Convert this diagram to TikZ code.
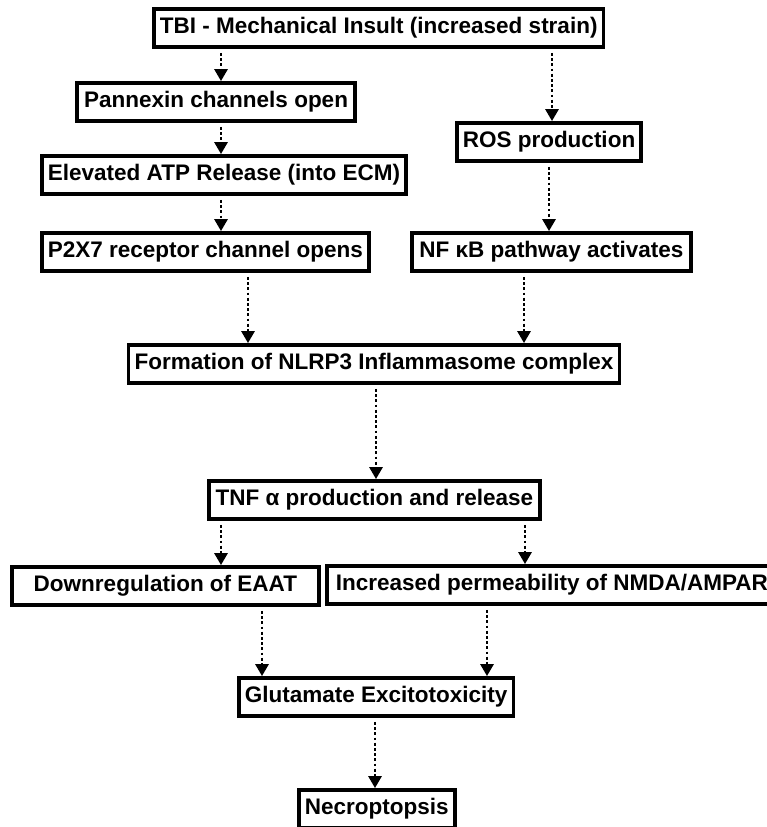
\documentclass[tikz,border=0pt]{standalone}
\usepackage{fontspec}
\setmainfont{Liberation Sans}
\newfontfamily\boxfont[UprightFont={* Bold}]{Liberation Sans}
\usetikzlibrary{arrows.meta}
\tikzset{
  box/.style={draw, line width=3.8pt, minimum height=38pt, inner ysep=0pt, inner xsep=6pt,
              font=\boxfont\fontsize{22.5pt}{24pt}\selectfont},
  arr/.style={line width=2.8pt, dash pattern=on 2.8pt off 2.4pt,
              -{Triangle[width=13pt,length=12pt]}, shorten <=4pt}
}
\begin{document}
\begin{tikzpicture}[x=1pt,y=-1pt]
\useasboundingbox (0,0) rectangle (767,827);
% nodes
\node[box, minimum width=442pt, anchor=west] (tbi) at (152,28) {TBI - Mechanical Insult (increased strain)};
\node[box, minimum width=278pt, anchor=east] (pan) at (357,102) {Pannexin channels open};
\node[box, minimum width=184pt] (ros) at (549,142) {ROS production};
\node[box, minimum width=362pt, anchor=west] (atp) at (40,175) {Elevated ATP Release (into ECM)};
\node[box, minimum width=326pt, anchor=west] (p2x) at (40,252) {P2X7 receptor channel opens};
\node[box, minimum width=279pt, anchor=west] (nfk) at (410,252) {NF κB pathway activates};
\node[box] (nlr) at (374,364) {Formation of NLRP3 Inflammasome complex};
\node[box, minimum width=331pt, anchor=west] (tnf) at (207,500) {TNF α production and release};
\node[box, minimum width=307pt, anchor=west] (eaat) at (10,586) {Downregulation of EAAT};
\node[box, minimum width=450pt, anchor=west] (nmda) at (325,585) {Increased permeability of NMDA/AMPAR};
\node[box, minimum width=270pt, anchor=west] (glu) at (237,697) {Glutamate Excitotoxicity};
\node[box, minimum width=153pt, anchor=west] (nec) at (297,809) {Necroptopsis};
% arrow columns
\coordinate (c1) at (221,0);
\coordinate (c2) at (552,0);
\coordinate (c3) at (549,0);
\coordinate (c4) at (248,0);
\coordinate (c5) at (524,0);
\coordinate (c6) at (376,0);
\coordinate (c7) at (525,0);
\coordinate (c8) at (262,0);
\coordinate (c9) at (487,0);
\coordinate (c10) at (375,0);
% connectors
\draw[arr] (tbi.south -| c1) -- (pan.north -| c1);
\draw[arr] (tbi.south -| c2) -- (ros.north -| c2);
\draw[arr] (pan.south -| c1) -- (atp.north -| c1);
\draw[arr] (atp.south -| c1) -- (p2x.north -| c1);
\draw[arr] (ros.south -| c3) -- (nfk.north -| c3);
\draw[arr] (p2x.south -| c4) -- (nlr.north -| c4);
\draw[arr] (nfk.south -| c5) -- (nlr.north -| c5);
\draw[arr] (nlr.south -| c6) -- (tnf.north -| c6);
\draw[arr] (tnf.south -| c1) -- (eaat.north -| c1);
\draw[arr] (tnf.south -| c7) -- (nmda.north -| c7);
\draw[arr] (eaat.south -| c8) -- (glu.north -| c8);
\draw[arr] (nmda.south -| c9) -- (glu.north -| c9);
\draw[arr] (glu.south -| c10) -- (nec.north -| c10);
\end{tikzpicture}
\end{document}
